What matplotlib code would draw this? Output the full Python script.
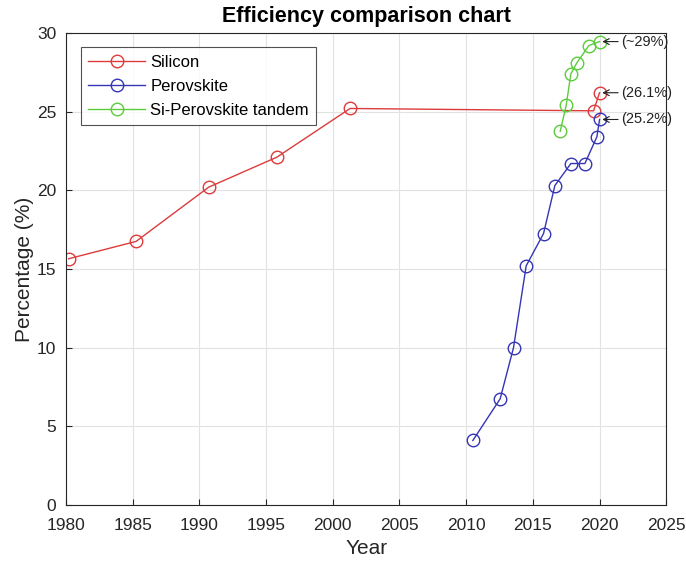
import matplotlib
matplotlib.use("Agg")
import matplotlib.pyplot as plt

plt.rcParams['font.family'] = ['Liberation Sans', 'DejaVu Sans']

# Data
si_year = [1980.2, 1985.25, 1990.7, 1995.8, 2001.3, 2019.55, 2020.0]
si_eff = [15.65, 16.75, 20.2, 22.1, 25.2, 25.05, 26.2]

pv_year = [2010.5, 2012.55, 2013.55, 2014.5, 2015.8, 2016.65, 2017.85, 2018.9, 2019.8, 2020.0]
pv_eff = [4.1, 6.75, 10.0, 15.2, 17.25, 20.3, 21.7, 21.7, 23.4, 24.5]

tan_year = [2017.05, 2017.5, 2017.85, 2018.3, 2019.2, 2020.0]
tan_eff = [23.75, 25.4, 27.4, 28.1, 29.2, 29.45]

notes = ['(~29%)', '(26.1%)', '(25.2%)']
note_pts = [(tan_year[-1], tan_eff[-1]), (si_year[-1], si_eff[-1]), (pv_year[-1], pv_eff[-1])]

fig = plt.figure(figsize=(6.86, 5.62), dpi=100)
ax = fig.add_axes([0.0962, 0.1014, 0.875, 0.84])

red = '#dd3b3b'
blue = '#3535b5'
green = '#5ccc3c'
ax.plot(si_year, si_eff, '-o', color=red, mfc='none', ms=9, lw=1.0, mew=1.0, label='Silicon')
ax.plot(pv_year, pv_eff, '-o', color=blue, mfc='none', ms=9, lw=1.0, mew=1.0, label='Perovskite')
ax.plot(tan_year, tan_eff, '-o', color=green, mfc='none', ms=9, lw=1.0, mew=1.0, label='Si-Perovskite tandem')

for txt, (x, y) in zip(notes, note_pts):
    ax.annotate(txt, xy=(x + 0.2, y), xytext=(x + 1.6, y), fontsize=10.5, va='center',
                color='#222222', annotation_clip=False,
                arrowprops=dict(arrowstyle='->', color='#222222', lw=0.8, shrinkA=0, shrinkB=0))

ax.set_xlim(1980, 2025)
ax.set_ylim(0, 30)
ax.set_xticks(range(1980, 2026, 5))
ax.set_yticks(range(0, 31, 5))
ax.tick_params(direction='in', labelsize=12.5, colors='#262626', length=4, top=False, right=False)
ax.tick_params(axis='x', pad=9)
ax.tick_params(axis='y', pad=7)
ax.grid(True, color='#e2e2e2', lw=0.8)
ax.set_axisbelow(True)
for s in ax.spines.values():
    s.set_color('#262626')
    s.set_linewidth(0.8)

ax.set_xlabel('Year', fontsize=15, color='#262626', labelpad=5)
ax.set_ylabel('Percentage (%)', fontsize=15, color='#262626', labelpad=2)
ax.set_title('Efficiency comparison chart', fontsize=15.5, fontweight='bold', pad=8)

leg = ax.legend(loc='upper left', fontsize=12, frameon=True, fancybox=False,
                edgecolor='#262626', bbox_to_anchor=(0.025, 0.97), borderaxespad=0,
                handlelength=3.4, labelspacing=0.55, handletextpad=0.3, borderpad=0.45)
leg.get_frame().set_linewidth(0.8)

fig.savefig('out.png', dpi=100)
